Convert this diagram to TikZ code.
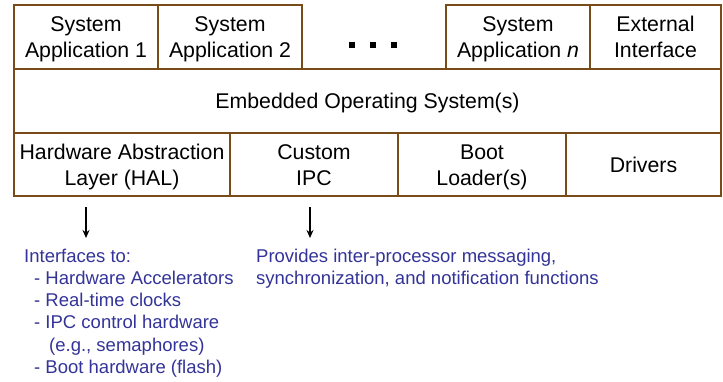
\documentclass[tikz,border=0pt]{standalone}
\usepackage{fontspec}
\setmainfont{Liberation Sans}
\usetikzlibrary{arrows.meta}
\definecolor{brownline}{RGB}{120,75,25}
\definecolor{noteblue}{RGB}{51,51,153}
\begin{document}
\begin{tikzpicture}[x=1pt,y=-1pt,
  layer/.style={draw=brownline,line width=1.5pt,inner sep=0pt},
  txt/.style={inner sep=0pt,align=center,font=\fontsize{21.3}{26}\selectfont},
  note/.style={anchor=base west,inner sep=0pt,text=noteblue,
    font=\fontsize{18.5}{22}\selectfont},
  dotsq/.style={fill=black,draw=none,minimum size=6pt,inner sep=0pt},
  pointer/.style={-{Stealth[length=8pt,width=7pt]},line width=1.3pt}]
\useasboundingbox (0,0) rectangle (723,381);
% top row
\node[layer,minimum width=144pt,minimum height=64pt] (app1) at (86,37) {};
\node[layer,minimum width=144pt,minimum height=64pt] (app2) at (230,37) {};
\node[layer,minimum width=144pt,minimum height=64pt] (appn) at (518,37) {};
\node[layer,minimum width=131pt,minimum height=64pt] (ext) at (655.5,37) {};
\node[txt,yshift=-2.5pt] (t1) at (app1.center) {\strut System\\\strut Application 1};
\node[txt,yshift=-2.5pt] (t2) at (app2.center) {\strut System\\\strut Application 2};
\node[txt,yshift=-2.5pt] (tn) at (appn.center) {\strut System\\\strut Application \textit{n}};
\node[txt,yshift=-2.5pt] (te) at (ext.center) {\strut External\\\strut Interface};
\node[dotsq] (d1) at (352,45) {};
\node[dotsq] (d2) at (373,45) {};
\node[dotsq] (d3) at (394,45) {};
% middle
\node[layer,minimum width=707pt,minimum height=64pt] (os) at (367.5,101) {};
\node[txt,yshift=-2pt] (tos) at (os.center) {\strut Embedded Operating System(s)};
% bottom row
\node[layer,minimum width=216pt,minimum height=63pt] (hal) at (122,164.5) {};
\node[layer,minimum width=168pt,minimum height=63pt] (ipc) at (314,164.5) {};
\node[layer,minimum width=168pt,minimum height=63pt] (boot) at (482,164.5) {};
\node[layer,minimum width=155pt,minimum height=63pt] (drv) at (643.5,164.5) {};
\node[txt,yshift=-2.5pt] (th) at (hal.center) {\strut Hardware Abstraction\\\strut Layer (HAL)};
\node[txt,yshift=-2.5pt] (ti) at (ipc.center) {\strut Custom\\\strut IPC};
\node[txt,yshift=-2.5pt] (tb) at (boot.center) {\strut Boot\\\strut Loader(s)};
\node[txt,yshift=-2.5pt] (td) at (drv.center) {\strut Drivers};
% arrows
\coordinate (a1s) at (86,207);
\coordinate (a1e) at (86,238);
\coordinate (a2s) at (310,207);
\coordinate (a2e) at (310,238);
\draw[pointer] (a1s) -- (a1e);
\draw[pointer] (a2s) -- (a2e);
% notes
\node[note] (n1) at (24,262) {Interfaces to:};
\node[note] (n2) at (34,284.3) {- Hardware Accelerators};
\node[note] (n3) at (34,306.6) {- Real-time clocks};
\node[note] (n4) at (34,328.9) {- IPC control hardware};
\node[note] (n5) at (49,351.2) {(e.g., semaphores)};
\node[note] (n6) at (34,373.5) {- Boot hardware (flash)};
\node[note] (p1) at (256,262) {Provides inter-processor messaging,};
\node[note] (p2) at (256,284.3) {synchronization, and notification functions};
\end{tikzpicture}
\end{document}
